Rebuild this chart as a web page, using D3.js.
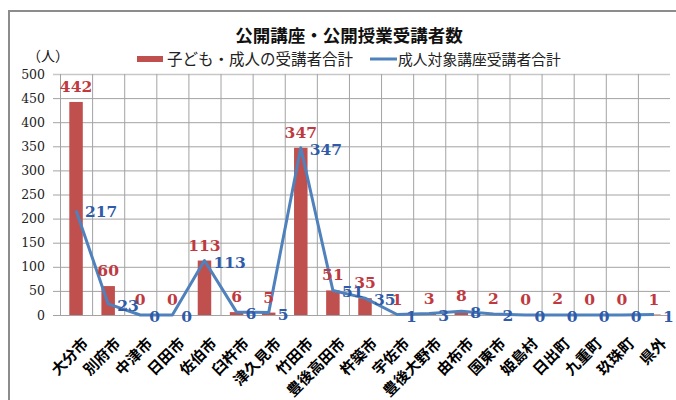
<!DOCTYPE html>
<html>
<head>
<meta charset="utf-8">
<script src="https://cdn.jsdelivr.net/npm/d3@7"></script>
<style>
  html, body { margin: 0; padding: 0; background: #fff; }
  svg { display: block; }
</style>
</head>
<body>
<svg id="chart" width="676" height="400"></svg>
<script>
const categories = ["大分市","別府市","中津市","日田市","佐伯市","臼杵市","津久見市","竹田市","豊後高田市","杵築市","宇佐市","豊後大野市","由布市","国東市","姫島村","日出町","九重町","玖珠町","県外"];
const totalValues = [442,60,0,0,113,6,5,347,51,35,1,3,8,2,0,2,0,0,1];
const adultValues = [217,23,0,0,113,6,5,347,51,35,1,3,8,2,0,0,0,0,1];
const yTicks = [0,50,100,150,200,250,300,350,400,450,500];
const titleText = "公開講座・公開授業受講者数";
const seriesNames = ["子ども・成人の受講者合計","成人対象講座受講者合計"];
const unitText = "（人）";

const barColor = "#c0504d";
const lineColor = "#4f81bd";
const barLabelColor = "#c0393f";
const lineLabelColor = "#2f5ba8";
const serif = "'DejaVu Serif', 'Liberation Serif', serif";
const jp = "'Noto Sans CJK JP', 'Noto Sans', sans-serif";

const svg = d3.select("#chart");

// outer frame
svg.append("rect").attr("x", 9).attr("y", 11).attr("width", 700).attr("height", 420)
  .attr("fill", "none").attr("stroke", "#8c8c8c").attr("stroke-width", 2);

const plotL = 60, plotR = 670, plotT = 74, plotB = 315;
const x = d3.scaleBand().domain(categories).range([plotL, plotR]).paddingInner(0).paddingOuter(0);
const y = d3.scaleLinear().domain([0, 500]).range([plotB, plotT]);
const barW = 13.5;

// horizontal grid
const yAxis = d3.axisLeft(y).tickValues(yTicks).tickSize(-(plotR - plotL)).tickSizeOuter(0).tickPadding(8).tickFormat(d3.format("d"));
const gy = svg.append("g").attr("transform", `translate(${plotL},0)`).call(yAxis);
gy.select(".domain").remove();
gy.selectAll(".tick line").attr("stroke", "#a3a3a3").attr("stroke-width", 1).attr("x1", -7);
gy.selectAll(".tick").filter(d => d === 500).select("line").attr("stroke", "#c8c8c8").attr("stroke-width", 1.5);
gy.selectAll(".tick text").attr("font-family", serif).attr("font-size", 12.5).attr("fill", "#222").attr("x", -15);

// vertical grid at category boundaries
svg.append("g").selectAll("line").data(categories).join("line")
  .attr("x1", d => x(d) + 0.5).attr("x2", d => x(d) + 0.5)
  .attr("y1", plotT).attr("y2", plotB)
  .attr("stroke", "#a3a3a3").attr("stroke-width", 1);

// bars
svg.append("g").selectAll("rect").data(categories).join("rect")
  .attr("x", d => x(d) + x.bandwidth() / 2 - barW / 2)
  .attr("width", barW)
  .attr("y", (d, i) => y(totalValues[i]))
  .attr("height", (d, i) => plotB - y(totalValues[i]))
  .attr("fill", barColor);

// bottom axis line
svg.append("line").attr("x1", plotL).attr("x2", plotR).attr("y1", plotB + 0.5).attr("y2", plotB + 0.5)
  .attr("stroke", "#a3a3a3");

// line
const line = d3.line().x((d, i) => x(categories[i]) + x.bandwidth() / 2).y(d => y(d));
svg.append("path").datum(adultValues).attr("d", line)
  .attr("fill", "none").attr("stroke", lineColor).attr("stroke-width", 3).attr("stroke-linejoin", "round");

// bar labels
svg.append("g").selectAll("text").data(categories).join("text")
  .attr("x", d => x(d) + x.bandwidth() / 2)
  .attr("y", (d, i) => y(totalValues[i]) - 10)
  .attr("text-anchor", "middle")
  .attr("font-family", serif).attr("font-size", 15.5).attr("font-weight", "bold")
  .attr("fill", barLabelColor)
  .text((d, i) => totalValues[i]);

// line labels
svg.append("g").selectAll("text").data(categories).join("text")
  .attr("x", d => x(d) + x.bandwidth() / 2 + 9)
  .attr("y", (d, i) => y(adultValues[i]) + 7)
  .attr("text-anchor", "start")
  .attr("font-family", serif).attr("font-size", 15.5).attr("font-weight", "bold")
  .attr("fill", lineLabelColor)
  .text((d, i) => adultValues[i]);

// category labels
svg.append("g").selectAll("text").data(categories).join("text")
  .attr("transform", d => `translate(${x(d) + x.bandwidth() / 2 + 6},${plotB + 22}) rotate(-45)`)
  .attr("text-anchor", "end")
  .attr("dy", "0.7em")
  .attr("font-family", jp).attr("font-size", 15).attr("font-weight", "bold")
  .attr("fill", "#000")
  .text(d => d);

// title
svg.append("text").attr("x", 349).attr("y", 42).attr("text-anchor", "middle")
  .attr("font-family", jp).attr("font-size", 17.5).attr("font-weight", "bold").attr("fill", "#111")
  .text(titleText);

// unit
svg.append("text").attr("x", 27).attr("y", 61)
  .attr("font-family", jp).attr("font-size", 14).attr("fill", "#111")
  .text(unitText);

// legend
const lg = svg.append("g");
lg.append("rect").attr("x", 137).attr("y", 56).attr("width", 26).attr("height", 6).attr("fill", barColor);
lg.append("text").attr("x", 167).attr("y", 65).attr("font-family", jp).attr("font-size", 15.5).attr("fill", "#222")
  .text(seriesNames[0]);
lg.append("line").attr("x1", 370).attr("x2", 397).attr("y1", 59).attr("y2", 59)
  .attr("stroke", lineColor).attr("stroke-width", 3);
lg.append("text").attr("x", 398).attr("y", 65).attr("font-family", jp).attr("font-size", 14.8).attr("fill", "#222")
  .text(seriesNames[1]);
</script>
</body>
</html>
